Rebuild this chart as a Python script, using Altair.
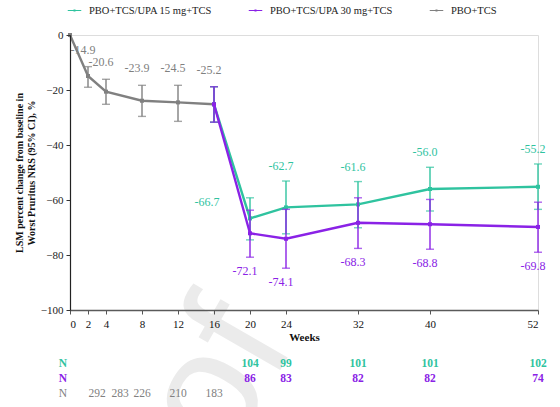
import altair as alt
import pandas as pd

# Series labels
S15 = "PBO+TCS/UPA 15 mg+TCS"
S30 = "PBO+TCS/UPA 30 mg+TCS"
SPB = "PBO+TCS"

# Placebo period (weeks 0-16)
weeks_pbo = [0, 2, 4, 8, 12, 16]
pbo_mean = [0.0, -14.9, -20.6, -23.9, -24.5, -25.2]
pbo_lo = [None, -19.0, -25.2, -29.6, -31.4, -31.7]
pbo_hi = [None, -11.5, -16.1, -18.3, -18.3, -18.8]
pbo_n = [None, 292, 283, 226, 210, 183]

# Upadacitinib period (weeks 16-52)
weeks_upa = [16, 20, 24, 32, 40, 52]
upa15_mean = [-25.2, -66.7, -62.7, -61.6, -56.0, -55.2]
upa15_lo = [-31.7, -74.5, -72.3, -70.1, -64.0, -63.4]
upa15_hi = [-18.8, -59.2, -53.1, -53.3, -48.1, -46.9]
upa15_n = [None, 104, 99, 101, 101, 102]

upa30_mean = [-25.2, -72.1, -74.1, -68.3, -68.8, -69.8]
upa30_lo = [-31.7, -80.8, -84.8, -77.6, -77.9, -79.0]
upa30_hi = [-18.8, -63.7, -63.4, -59.2, -59.8, -60.8]
upa30_n = [None, 86, 83, 82, 82, 74]

week_ticks = [0, 2, 4, 8, 12, 16, 20, 24, 32, 40, 52]

GREEN = "#2fc39f"
PURPLE = "#8a22e6"
GRAY = "#808080"
SERIF = "Liberation Serif, Times New Roman, serif"


def frame(name, weeks, mean, lo, hi, n):
    return pd.DataFrame({"series": name, "week": weeks, "mean": mean,
                         "lo": lo, "hi": hi, "n": n})


df = pd.concat([
    frame(SPB, weeks_pbo, pbo_mean, pbo_lo, pbo_hi, pbo_n),
    frame(S15, weeks_upa, upa15_mean, upa15_lo, upa15_hi, upa15_n),
    frame(S30, weeks_upa, upa30_mean, upa30_lo, upa30_hi, upa30_n),
], ignore_index=True)
df["label"] = df["mean"].map(lambda v: f"{v:.1f}")
df["n_text"] = df["n"].map(lambda v: "" if pd.isna(v) else str(int(v)))

color_scale = alt.Scale(domain=[S15, S30, SPB], range=[GREEN, PURPLE, GRAY])

x_enc = alt.X(
    "week:Q",
    scale=alt.Scale(domain=[0, 52], nice=False, zero=False),
    axis=alt.Axis(values=week_ticks, title="Weeks", grid=False, zindex=1,
                  labelFont=SERIF, labelFontSize=11, labelColor="#111",
                  labelPadding=4, tickSize=4, tickColor="#555",
                  domainColor="#5a5a5a", domainWidth=1.6,
                  titleFont=SERIF, titleFontSize=11, titleFontWeight="bold",
                  titleColor="#111", titlePadding=2),
)
y_scale = alt.Scale(domain=[-100, 0], nice=False, zero=False)
y_axis = alt.Axis(
    values=[0, -20, -40, -60, -80, -100], grid=False, zindex=1,
    title=["LSM percent change from baseline in", "Worst Pruritus NRS (95% CI), %"],
    labelFont=SERIF, labelFontSize=11, labelColor="#222", labelPadding=3,
    tickSize=4, tickColor="#333", domainColor="#222", domainWidth=1.2,
    titleFont=SERIF, titleFontSize=10, titleFontWeight="bold", titleColor="#111",
    titlePadding=4,
)

legend_shape = "M-0.5,-0.035H0.5V0.035H-0.5Z M-0.075,-0.075H0.075V0.075H-0.075Z"
legend = alt.Legend(
    title=None, orient="none", direction="horizontal", columns=3,
    legendX=-9, legendY=-38, symbolType=legend_shape, symbolSize=729,
    symbolStrokeWidth=0, labelFont=SERIF, labelFontSize=10.5,
    labelColor="#222", columnPadding=30, labelOffset=1, gridAlign="all",
)

base = alt.Chart(df)

# Faint "Proof" watermark behind the plot
watermark = alt.Chart(pd.DataFrame({"t": ["Proof"]})).mark_text(
    font="Liberation Sans", fontSize=165, color="#ebebeb", angle=300,
    align="right", baseline="alphabetic",
).encode(x=alt.value(226), y=alt.value(308), text="t:N")


def series_layers(name, col):
    sub = base.transform_filter(alt.datum.series == name)
    bars = sub.transform_filter("isValid(datum.lo)")
    rule = bars.mark_rule(strokeWidth=1.4, color=col).encode(
        x=x_enc, y=alt.Y("lo:Q", scale=y_scale, axis=y_axis), y2="hi:Q")
    cap_lo = bars.mark_tick(orient="horizontal", size=8, thickness=1.4,
                            color=col).encode(x=x_enc, y=alt.Y("lo:Q", scale=y_scale))
    cap_hi = bars.mark_tick(orient="horizontal", size=8, thickness=1.4,
                            color=col).encode(x=x_enc, y=alt.Y("hi:Q", scale=y_scale))
    line = sub.mark_line(strokeWidth=2.4, color=col).encode(
        x=x_enc, y=alt.Y("mean:Q", scale=y_scale))
    pts = sub.mark_square(size=16, opacity=1).encode(
        x=x_enc, y=alt.Y("mean:Q", scale=y_scale),
        fill=alt.Fill("series:N", scale=color_scale, legend=legend,
                      sort=[S15, S30, SPB]),
    )
    return [rule, cap_lo, cap_hi, line, pts]


# Value labels
lbl_gray = base.transform_filter(
    (alt.datum.series == SPB) & (alt.datum.week > 0)
).mark_text(font=SERIF, fontSize=12, color=GRAY, dx=-5, dy=-10,
            baseline="bottom").encode(x=x_enc, y=alt.Y("hi:Q", scale=y_scale),
                                      text="label:N")
lbl_green = base.transform_filter(
    (alt.datum.series == S15) & (alt.datum.week > 20)
).mark_text(font=SERIF, fontSize=12, color=GREEN, dx=-5, dy=-8,
            baseline="bottom").encode(x=x_enc, y=alt.Y("hi:Q", scale=y_scale),
                                      text="label:N")
lbl_green20 = base.transform_filter(
    (alt.datum.series == S15) & (alt.datum.week == 20)
).mark_text(font=SERIF, fontSize=12, color=GREEN, dx=-43, dy=-16).encode(
    x=x_enc, y=alt.Y("mean:Q", scale=y_scale), text="label:N")
lbl_purple = base.transform_filter(
    (alt.datum.series == S30) & (alt.datum.week > 16)
).mark_text(font=SERIF, fontSize=12, color=PURPLE, dx=-5, dy=9,
            baseline="top").encode(x=x_enc, y=alt.Y("lo:Q", scale=y_scale),
                                   text="label:N")


# Patient counts under the axis
def n_row(name, col, row_y, weight, dx=0, weeks=None):
    sub = base.transform_filter(alt.datum.series == name).transform_filter(
        "isValid(datum.n) && datum.n > 0")
    if weeks is not None:
        sub = sub.transform_filter(
            alt.FieldOneOfPredicate(field="week", oneOf=weeks))
    nums = sub.mark_text(font=SERIF, fontSize=11.5, color=col, dx=dx,
                         fontWeight=weight).encode(
        x=x_enc, y=alt.value(row_y), text="n_text:N")
    return nums


def n_tag(col, row_y, weight):
    return alt.Chart(pd.DataFrame({"t": ["N"]})).mark_text(
        font=SERIF, fontSize=11.5, color=col, fontWeight=weight).encode(
        x=alt.value(-7), y=alt.value(row_y), text="t:N")


layers = [watermark]
layers += series_layers(SPB, GRAY)
layers += series_layers(S15, GREEN)
layers += series_layers(S30, PURPLE)
layers += [lbl_gray, lbl_green, lbl_green20, lbl_purple]
layers += [n_row(S15, GREEN, 329, "bold"), n_tag(GREEN, 329, "bold")]
layers += [n_row(S30, PURPLE, 344, "bold"), n_tag(PURPLE, 344, "bold")]
layers += [n_row(SPB, GRAY, 359, "normal", dx=9, weeks=[2]),
           n_row(SPB, GRAY, 359, "normal", dx=14, weeks=[4]),
           n_row(SPB, GRAY, 359, "normal", weeks=[8, 12, 16]),
           n_tag(GRAY, 359, "normal")]

chart = alt.layer(*layers).properties(
    width=468, height=275,
    autosize=alt.AutoSizeParams(type="none"),
    padding={"left": 70, "top": 35, "right": 22, "bottom": 97},
).configure_view(stroke=None).configure(background="white")

chart.save("out.html", embed_options={"renderer": "svg", "actions": False})
